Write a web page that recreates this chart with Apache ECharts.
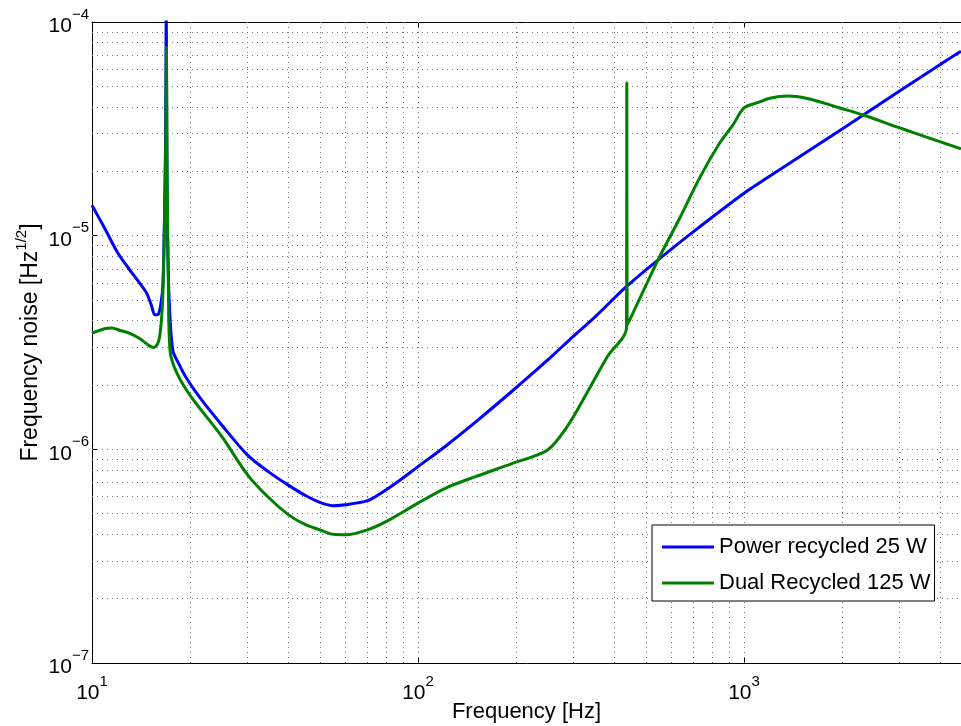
<!DOCTYPE html>
<html>
<head>
<meta charset="utf-8">
<script src="https://cdn.jsdelivr.net/npm/echarts@6.0.0/dist/echarts.min.js"></script>
<style>
    html, body { margin: 0; padding: 0; background: #fff; }
    #chart { width: 961px; height: 726px; }
</style>
</head>
<body>
<div id="chart"></div>
<script>
    // Power recycled 25 W
    var blueFreq = [10, 11, 12, 13, 14, 14.7, 15.2, 15.6, 16.0, 16.3, 16.5, 16.65, 16.8, 16.9, 16.95, 17.05,
        17.25, 17.7, 18.5, 19.5, 21.4, 25, 30, 35, 40, 45, 50, 55, 60, 70, 76.5, 85, 100, 122, 150, 195, 250, 300, 350,
        437, 545, 700, 1000, 1175, 2000, 3000, 4198, 4630];
    var blueNoise = [1.39e-5, 1.065e-5, 8.3e-6, 6.98e-6, 6.0e-6, 5.4e-6, 4.74e-6, 4.26e-6, 4.3e-6, 4.9e-6, 5.9e-6, 1.03e-5, 2.5e-5, 1.2e-4, 3.0e-5, 1.0e-5,
        5.0e-6, 2.9e-6, 2.5e-6, 2.15e-6, 1.75e-6, 1.3e-6, 9.4e-7, 7.8e-7, 6.8e-7, 6.1e-7, 5.65e-7, 5.45e-7, 5.5e-7, 5.75e-7, 6.2e-7, 6.9e-7, 8.3e-7, 1.04e-6, 1.34e-6, 1.88e-6, 2.62e-6, 3.39e-6, 4.18e-6,
        5.8e-6, 7.7e-6, 1.045e-5, 1.58e-5, 1.86e-5, 3.16e-5, 4.75e-5, 6.64e-5, 7.3e-5];

    // Dual Recycled 125 W
    var greenFreq = [10, 11, 11.5, 12.2, 13, 14, 15, 15.5, 16.0, 16.3, 16.5, 16.7, 16.85, 16.92, 17.0, 17.15,
        17.35, 18.2, 20.2, 25, 30, 35, 40, 45, 50, 55, 60, 70, 80, 100, 122, 150, 195, 249, 286, 330, 380,
        436, 437, 438, 545, 637, 733, 843, 925, 1000, 1100, 1200, 1365, 1600, 1966, 2318, 3013, 4630];
    var greenNoise = [3.5e-6, 3.68e-6, 3.7e-6, 3.6e-6, 3.5e-6, 3.3e-6, 3.05e-6, 3.0e-6, 3.2e-6, 3.9e-6, 5.4e-6, 1.2e-5, 3.0e-5, 7.6e-5, 2.0e-5, 6.0e-6,
        2.9e-6, 2.28e-6, 1.75e-6, 1.15e-6, 7.6e-7, 5.9e-7, 4.95e-7, 4.45e-7, 4.2e-7, 4.0e-7, 3.98e-7, 4.2e-7, 4.6e-7, 5.6e-7, 6.6e-7, 7.45e-7, 8.6e-7, 9.9e-7, 1.27e-6, 1.84e-6, 2.7e-6,
        3.72e-6, 5.2e-5, 3.8e-6, 7.7e-6, 1.22e-5, 1.88e-5, 2.72e-5, 3.3e-5, 3.96e-5, 4.19e-5, 4.4e-5, 4.5e-5, 4.35e-5, 3.96e-5, 3.67e-5, 3.19e-5, 2.55e-5];

    // grid lines (major + minor)
    var gridX = [20, 30, 40, 50, 60, 70, 80, 90, 100, 200, 300, 400, 500, 600, 700, 800, 900, 1000, 2000, 3000, 4000];
    var gridY = [2e-7, 3e-7, 4e-7, 5e-7, 6e-7, 7e-7, 8e-7, 9e-7, 1e-6, 2e-6, 3e-6, 4e-6, 5e-6, 6e-6, 7e-6, 8e-6, 9e-6,
        1e-5, 2e-5, 3e-5, 4e-5, 5e-5, 6e-5, 7e-5, 8e-5, 9e-5];

    var xMin = 10, xMax = 4630;

    function zip(f, v) {
        return f.map(function (x, i) { return [x, v[i]]; });
    }

    function powLabel(v) {
        var e = Math.log10(v);
        if (Math.abs(e - Math.round(e)) > 1e-6) return '';
        return '{a|10}{b|' + String(Math.round(e)).replace('-', '\u2212') + '}';
    }

    var font = '"Liberation Sans", Arial, Helvetica, sans-serif';
    var labelRich = {
        a: { fontSize: 21, lineHeight: 30, verticalAlign: 'bottom', color: '#000', fontFamily: font },
        b: { fontSize: 15, lineHeight: 13, verticalAlign: 'top', color: '#000', fontFamily: font }
    };

    var gridLines = [];
    gridX.forEach(function (x) {
        gridLines.push([{ coord: [x, 1e-7] }, { coord: [x, 1e-4] }]);
    });
    gridY.forEach(function (y) {
        gridLines.push([{ coord: [xMin, y] }, { coord: [xMax, y] }]);
    });

    var chart = echarts.init(document.getElementById('chart'));
    chart.setOption({
        animation: false,
        backgroundColor: '#fff',
        grid: { left: 92, right: 0, top: 22, bottom: 63, outerBoundsMode: 'none', containLabel: false },
        legend: {
            data: [
                { name: 'Power recycled 25 W', icon: 'rect' },
                { name: 'Dual Recycled 125 W', icon: 'rect' }
            ],
            orient: 'vertical',
            left: 652,
            top: 525,
            padding: [10, 4, 6, 10],
            itemGap: 12,
            itemWidth: 52,
            itemHeight: 3,
            backgroundColor: '#fff',
            borderColor: '#000',
            borderWidth: 1,
            borderRadius: 0,
            textStyle: { fontSize: 22, lineHeight: 24, color: '#000', fontFamily: font }
        },
        xAxis: [{
            type: 'log',
            logBase: 10,
            min: xMin,
            max: xMax,
            name: 'Frequency [Hz]',
            nameLocation: 'middle',
            nameGap: 38,
            nameMoveOverlap: false,
            nameTextStyle: { fontSize: 22, color: '#000', fontFamily: font },
            axisLine: { lineStyle: { color: '#000', width: 1 } },
            axisTick: { inside: true, length: 6, lineStyle: { color: '#000' } },
            axisLabel: { margin: 11, formatter: powLabel, rich: labelRich },
            splitLine: { show: false }
        }, {
            type: 'log',
            logBase: 10,
            min: xMin,
            max: xMax,
            position: 'top',
            axisLine: { lineStyle: { color: '#000', width: 1 } },
            axisTick: { inside: true, length: 6, lineStyle: { color: '#000' } },
            axisLabel: { show: false },
            splitLine: { show: false }
        }],
        yAxis: {
            type: 'log',
            logBase: 10,
            min: 1e-7,
            max: 1e-4,
            name: '{n|Frequency noise [Hz}{s|1/2}{n|]}',
            nameLocation: 'middle',
            nameGap: 50,
            nameRotate: 90,
            nameMoveOverlap: false,
            nameTextStyle: {
                rich: {
                    n: { fontSize: 23, lineHeight: 28, verticalAlign: 'bottom', color: '#000', fontFamily: font },
                    s: { fontSize: 15, lineHeight: 12, verticalAlign: 'top', color: '#000', fontFamily: font }
                }
            },
            axisLine: { show: true, lineStyle: { color: '#000', width: 1 } },
            axisTick: { inside: true, length: 6, lineStyle: { color: '#000' } },
            axisLabel: { margin: 3, formatter: powLabel, rich: labelRich },
            splitLine: { show: false }
        },
        series: [
            {
                name: 'grid',
                type: 'line',
                data: [],
                silent: true,
                markLine: {
                    z: 1,
                    silent: true,
                    symbol: ['none', 'none'],
                    animation: false,
                    label: { show: false },
                    lineStyle: { color: '#777', type: [1, 4], width: 1 },
                    data: gridLines
                }
            },
            {
                name: 'Power recycled 25 W',
                type: 'line',
                data: zip(blueFreq, blueNoise),
                symbol: 'none',
                smooth: 0.3,
                clip: true,
                lineStyle: { color: '#0000ff', width: 3 },
                itemStyle: { color: '#0000ff' }
            },
            {
                name: 'Dual Recycled 125 W',
                type: 'line',
                data: zip(greenFreq, greenNoise),
                symbol: 'none',
                smooth: 0.3,
                clip: true,
                lineStyle: { color: '#008000', width: 3 },
                itemStyle: { color: '#008000' }
            }
        ]
    });
</script>
</body>
</html>
